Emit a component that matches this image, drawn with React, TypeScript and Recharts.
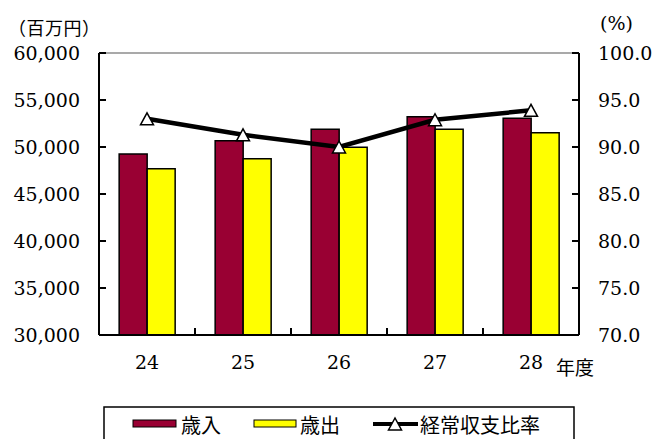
import React from 'react';
import { ComposedChart, Bar, Line, XAxis, YAxis, ReferenceLine, Legend } from 'recharts';

const years = ['24', '25', '26', '27', '28'];
const revenue = [49260, 50670, 51880, 53220, 53050];
const expenditure = [47690, 48750, 49970, 51880, 51520];
const ratio = [93.0, 91.3, 90.0, 92.9, 93.9];
const leftTicks = [30000, 35000, 40000, 45000, 50000, 55000, 60000];
const rightTicks = [70, 75, 80, 85, 90, 95, 100];

const seriesNames = { revenue: '歳入', expenditure: '歳出', ratio: '経常収支比率' };

const data = years.map((y, i) => ({
  year: y,
  revenue: revenue[i],
  expenditure: expenditure[i],
  ratio: ratio[i],
}));

const NUM_FONT = "'DejaVu Serif', serif";
const JP_FONT = "'Noto Sans CJK JP', sans-serif";
const REV_COLOR = '#990033';
const EXP_COLOR = '#FFFF00';
const BAND_HALF = 48;

const fmtThousands = (v: number) => v.toLocaleString('en-US');

const numStyle = { fontFamily: NUM_FONT, fontSize: 19 };

const LeftTick = (props: any) => {
  const { x, y, payload } = props;
  return (
    <g>
      <line x1={x + 19} x2={x + 26} y1={y} y2={y} stroke="#000" strokeWidth={2} />
      <text x={x} y={y} textAnchor="end" dominantBaseline="central" style={numStyle} fill="#000">
        {fmtThousands(payload.value)}
      </text>
    </g>
  );
};

const RightTick = (props: any) => {
  const { x, y, payload } = props;
  return (
    <g>
      <line x1={x - 19} x2={x - 26} y1={y} y2={y} stroke="#000" strokeWidth={2} />
      <text x={x} y={y} textAnchor="start" dominantBaseline="central" style={numStyle} fill="#000">
        {Number(payload.value).toFixed(1)}
      </text>
    </g>
  );
};

const BottomTick = (props: any) => {
  const { x, y, payload, index } = props;
  return (
    <g>
      {index > 0 && (
        <line x1={x - BAND_HALF} x2={x - BAND_HALF} y1={y} y2={y - 7} stroke="#000" strokeWidth={2} />
      )}
      <text x={x} y={y + 27} textAnchor="middle" dominantBaseline="central" style={numStyle} fill="#000">
        {payload.value}
      </text>
    </g>
  );
};

const TriangleDot = (props: any) => {
  const { cx, cy } = props;
  if (cx == null || cy == null) return null;
  const w = 13;
  const h = 12;
  return (
    <polygon
      points={`${cx},${cy - h / 2} ${cx - w / 2},${cy + h / 2} ${cx + w / 2},${cy + h / 2}`}
      fill="#fff"
      stroke="#000"
      strokeWidth={1.5}
    />
  );
};

const jpStyle = { fontFamily: JP_FONT, fontSize: 20 };

const LegendContent = () => (
  <svg width={472} height={40} style={{ display: 'block' }}>
    <rect x={1} y={1} width={470} height={40} fill="#fff" stroke="#000" strokeWidth={1.5} />
    <rect x={30} y={14} width={43} height={7} fill={REV_COLOR} stroke="#000" strokeWidth={1} />
    <text x={78} y={18} dominantBaseline="central" style={jpStyle} fill="#000">
      {seriesNames.revenue}
    </text>
    <rect x={151} y={14} width={42} height={7} fill={EXP_COLOR} stroke="#000" strokeWidth={1} />
    <text x={197} y={18} dominantBaseline="central" style={jpStyle} fill="#000">
      {seriesNames.expenditure}
    </text>
    <line x1={270} x2={315} y1={18} y2={18} stroke="#000" strokeWidth={4} />
    <polygon points={`292,12 285.5,24 298.5,24`} fill="#fff" stroke="#000" strokeWidth={1.5} />
    <text x={317} y={18} dominantBaseline="central" style={jpStyle} fill="#000">
      {seriesNames.ratio}
    </text>
  </svg>
);

export default function App() {
  return (
    <div style={{ position: 'absolute', left: 0, top: 0, width: 654, height: 439, overflow: 'hidden', background: '#fff' }}>
      <div style={{ position: 'absolute', left: 8, top: 16, fontFamily: JP_FONT, fontSize: 18, lineHeight: '22px', letterSpacing: '0.5px', color: '#000', whiteSpace: 'nowrap' }}>
        （百万円）
      </div>
      <div style={{ position: 'absolute', left: 600, top: 11, fontFamily: NUM_FONT, fontSize: 19, lineHeight: '24px', color: '#000', whiteSpace: 'nowrap' }}>
        (%)
      </div>
      <div style={{ position: 'absolute', left: 556, top: 356, fontFamily: JP_FONT, fontSize: 19, lineHeight: '22px', color: '#000', whiteSpace: 'nowrap' }}>
        年度
      </div>
      <div style={{ position: 'absolute', left: 0, top: 0 }}>
        <ComposedChart
          width={654}
          height={439}
          data={data}
          margin={{ top: 53, right: 0, left: 0, bottom: 64 }}
          barCategoryGap="21%"
          barGap={0}
        >
          <XAxis
            dataKey="year"
            height={40}
            tickLine={false}
            tickSize={0}
            tickMargin={0}
            axisLine={{ stroke: '#000', strokeWidth: 2 }}
            tick={<BottomTick />}
            interval={0}
          />
          <YAxis
            yAxisId="left"
            orientation="left"
            width={99}
            domain={[30000, 60000]}
            ticks={leftTicks}
            allowDataOverflow
            tickLine={false}
            tickSize={0}
            tickMargin={19}
            axisLine={{ stroke: '#000', strokeWidth: 2 }}
            tick={<LeftTick />}
            interval={0}
          />
          <YAxis
            yAxisId="right"
            orientation="right"
            width={75}
            domain={[70, 100]}
            ticks={rightTicks}
            allowDataOverflow
            tickLine={false}
            tickSize={0}
            tickMargin={19}
            axisLine={{ stroke: '#000', strokeWidth: 2 }}
            tick={<RightTick />}
            interval={0}
          />
          <ReferenceLine yAxisId="left" y={60000} stroke="#8c8c8c" strokeWidth={1.5} />
          <Bar yAxisId="left" dataKey="revenue" name={seriesNames.revenue} fill={REV_COLOR} stroke="#000" strokeWidth={1.5} isAnimationActive={false} />
          <Bar yAxisId="left" dataKey="expenditure" name={seriesNames.expenditure} fill={EXP_COLOR} stroke="#000" strokeWidth={1.5} isAnimationActive={false} />
          <Line
            yAxisId="right"
            dataKey="ratio"
            name={seriesNames.ratio}
            type="linear"
            stroke="#000"
            strokeWidth={4.5}
            dot={<TriangleDot />}
            activeDot={false}
            isAnimationActive={false}
          />
          <Legend
            layout="horizontal"
            verticalAlign="middle"
            align="center"
            content={<LegendContent />}
            wrapperStyle={{ top: 406, left: 103, width: 472, height: 42 }}
          />
        </ComposedChart>
      </div>
    </div>
  );
}
